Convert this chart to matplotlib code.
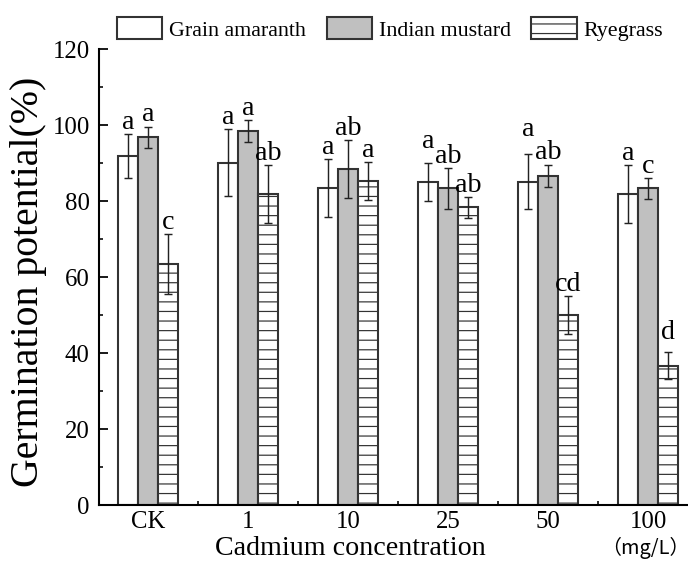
import matplotlib
matplotlib.use("Agg")
import matplotlib.pyplot as plt
import numpy as np
from matplotlib.ticker import FixedLocator, MultipleLocator

# ---------------- data ----------------
categories = ["CK", "1", "10", "25", "50", "100"]
series_names = ["Grain amaranth", "Indian mustard", "Ryegrass"]

amaranth = [91.8, 90.1, 83.4, 85.1, 85.1, 81.8]
amaranth_err = [5.8, 8.8, 7.6, 5.0, 7.2, 7.6]
mustard = [96.8, 98.4, 88.4, 83.3, 86.7, 83.3]
mustard_err = [2.8, 2.9, 7.6, 5.4, 2.9, 2.8]
ryegrass = [63.4, 81.8, 85.2, 78.3, 50.0, 36.7]
ryegrass_err = [8.0, 7.6, 5.0, 2.8, 5.0, 3.5]

amaranth_letters = ["a", "a", "a", "a", "a", "a"]
mustard_letters = ["a", "a", "ab", "ab", "ab", "c"]
ryegrass_letters = ["c", "ab", "a", "ab", "cd", "d"]

x_label = "Cadmium concentration"
y_label = "Germination potential(%)"
unit_label = "（mg/L）"

# ---------------- style ----------------
DPI = 115
plt.rcParams["font.family"] = ["Liberation Serif", "Noto Sans CJK SC", "DejaVu Sans"]
plt.rcParams["hatch.linewidth"] = 0.75
EDGE = "#333333"

fig = plt.figure(figsize=(688 / DPI, 564 / DPI), dpi=DPI)
ax = fig.add_axes([98.5 / 688, 1 - 505 / 564, (688 - 98.5) / 688, (505 - 49) / 564])

x = np.arange(len(categories))
width = 0.2
series = [
    (amaranth, amaranth_err, amaranth_letters, "white", ""),
    (mustard, mustard_err, mustard_letters, "#c0c0c0", ""),
    (ryegrass, ryegrass_err, ryegrass_letters, "white", "--"),
]
offsets = [-width, 0.0, width]
# extra lift (points) for a few letter labels to avoid collisions, as in the original
extra_lift = {(0, 3): 6.0, (0, 4): 8.0, (2, 5): 5.0}

handles = []
for si, ((vals, errs, letters, fc, hatch), off) in enumerate(zip(series, offsets)):
    bars = ax.bar(x + off, vals, width, color=fc, edgecolor=EDGE, linewidth=1.3,
                  hatch=hatch, zorder=2)
    handles.append(bars)
    ax.errorbar(x + off, vals, yerr=errs, fmt="none", ecolor="#222222",
                elinewidth=0.9, capsize=2.6, capthick=0.9, zorder=3)
    for i, (v, e, t) in enumerate(zip(vals, errs, letters)):
        lift = 3.2 + extra_lift.get((si, i), 0.0)
        ax.annotate(t, xy=(x[i] + off, v + e), xytext=(0, lift),
                    textcoords="offset points", ha="center", va="baseline",
                    fontsize=17.5, color="black", zorder=4)

ax.set_xlim(-0.5, 5.4)
ax.set_ylim(0, 120)

for s in ["top", "right"]:
    ax.spines[s].set_visible(False)
for s in ["left", "bottom"]:
    ax.spines[s].set_linewidth(1.3)
    ax.spines[s].set_color("black")

ax.yaxis.set_major_locator(MultipleLocator(20))
ax.yaxis.set_minor_locator(MultipleLocator(10))
ax.tick_params(axis="y", which="major", direction="in", length=5.6, width=1.1,
               labelsize=15.5, pad=5.5)
ax.tick_params(axis="y", which="minor", direction="in", length=2.2, width=1.0)

ax.xaxis.set_major_locator(FixedLocator(x))
ax.set_xticklabels(categories)
ax.xaxis.set_minor_locator(FixedLocator(x[:-1] + 0.5))
ax.tick_params(axis="x", which="major", length=0, labelsize=15.5, pad=4)
ax.tick_params(axis="x", which="minor", direction="in", length=2.2, width=1.0)

ax.set_ylabel(y_label, fontsize=25)
ax.yaxis.set_label_coords((47 - 98.5) / 589.5, 0.49)
ax.yaxis.label.set_va("bottom")

ax.set_xlabel(x_label, fontsize=17.5)
ax.xaxis.set_label_coords((350 - 98.5) / 589.5, (505 - 536) / 456)
ax.xaxis.label.set_va("top")

fig.text(645 / 688, 1 - 548 / 564, unit_label, ha="center", va="center", fontsize=12.5,
         family=["Noto Sans CJK SC", "DejaVu Sans"])

leg = fig.legend(handles, series_names, loc="center", bbox_to_anchor=(390 / 688, 1 - 29 / 564),
                 ncol=3, frameon=False, fontsize=13.8, handlelength=2.05, handleheight=1.1,
                 handletextpad=0.3, columnspacing=0.95, borderpad=0, borderaxespad=0)

fig.savefig("out.png", dpi=DPI)
